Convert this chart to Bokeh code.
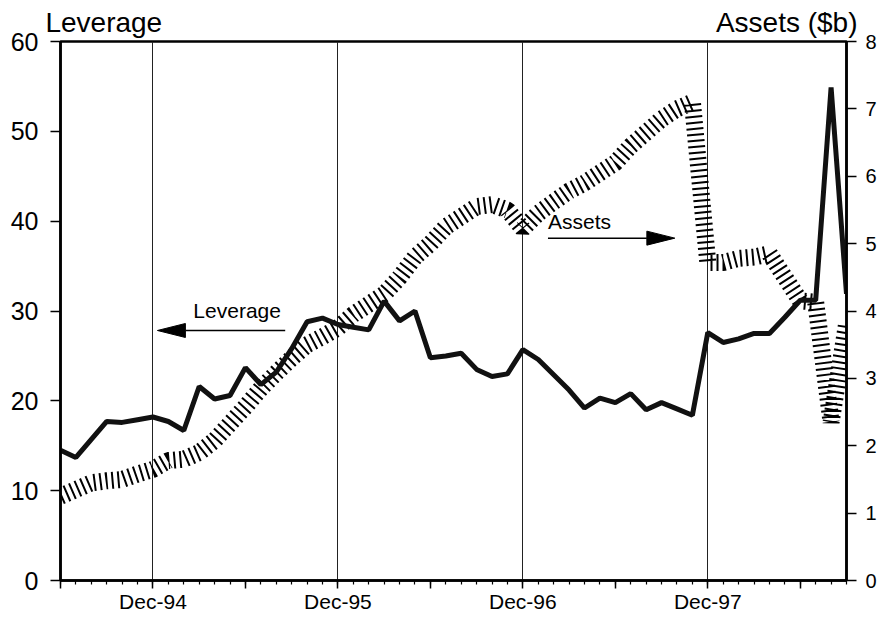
from bokeh.plotting import figure
from bokeh.models import Range1d, LinearAxis, FixedTicker, Label
from bokeh.embed import file_html
from bokeh.resources import INLINE

# ---------------- data ----------------
months = ["Jun-94", "Jul-94", "Aug-94", "Sep-94", "Oct-94", "Nov-94", "Dec-94",
          "Jan-95", "Feb-95", "Mar-95", "Apr-95", "May-95", "Jun-95", "Jul-95",
          "Aug-95", "Sep-95", "Oct-95", "Nov-95", "Dec-95",
          "Jan-96", "Feb-96", "Mar-96", "Apr-96", "May-96", "Jun-96", "Jul-96",
          "Aug-96", "Sep-96", "Oct-96", "Nov-96", "Dec-96",
          "Jan-97", "Feb-97", "Mar-97", "Apr-97", "May-97", "Jun-97", "Jul-97",
          "Aug-97", "Sep-97", "Oct-97", "Nov-97", "Dec-97",
          "Jan-98", "Feb-98", "Mar-98", "Apr-98", "May-98", "Jun-98", "Jul-98",
          "Aug-98", "Sep-98"]

leverage = [14.5, 13.7, 15.7, 17.7, 17.6, 17.9, 18.2,
            17.7, 16.7, 21.6, 20.2, 20.6, 23.7, 21.8, 23.2, 25.8, 28.8, 29.2, 28.5,
            28.2, 27.9, 31.1, 28.9, 30.0, 24.8, 25.0, 25.3, 23.5, 22.7, 23.0, 25.7,
            24.6, 22.9, 21.2, 19.2, 20.3, 19.8, 20.8, 19.0, 19.8, 19.1, 18.4, 27.6,
            26.5, 26.9, 27.5, 27.5, 29.3, 31.2, 31.2, 54.9, 31.9]

assets = [1.25, 1.35, 1.45, 1.48, 1.50, 1.58, 1.65,
          1.78, 1.80, 1.90, 2.08, 2.33, 2.58, 2.85, 3.08, 3.30, 3.50, 3.62, 3.75,
          3.95, 4.10, 4.25, 4.50, 4.80, 5.00, 5.25, 5.40, 5.55, 5.58, 5.50, 5.22,
          5.45, 5.62, 5.78, 5.90, 6.05, 6.20, 6.45, 6.65, 6.85, 7.00, 7.10, 4.72,
          4.72, 4.78, 4.80, 4.85, 4.50, 4.15, 4.13, 2.35, 3.80]

left_ticks = [0, 10, 20, 30, 40, 50, 60]
right_ticks = [0, 1, 2, 3, 4, 5, 6, 7, 8]
x_major = [0, 6, 12, 18, 24, 30, 36, 42, 48]
dec_ticks = [6, 18, 30, 42]
dec_labels = ["Dec-94", "Dec-95", "Dec-96", "Dec-97"]
titles = ["Leverage", "Assets ($b)"]

# ---------------- figure ----------------
FONT = "Liberation Sans"
W, H = 879, 617
ML, MR, MT, MB = 60, 32, 41, 37

x = list(range(len(months)))

p = figure(width=W, height=H, x_range=Range1d(0, len(months) - 1), y_range=Range1d(0, 60),
           output_backend="svg", toolbar_location=None,
           min_border_left=ML, min_border_right=MR, min_border_top=MT, min_border_bottom=MB)
p.extra_y_ranges = {"assets": Range1d(0, 8)}
p.background_fill_color = "white"
p.border_fill_color = "white"
p.outline_line_color = "black"
p.outline_line_width = 2.5

fw = W - ML - MR
fh = H - MT - MB
px_x = fw / (len(months) - 1)   # pixels per month
px_y = fh / 60.0                 # pixels per leverage unit

# grid: vertical lines at each December
p.ygrid.grid_line_color = None
p.xgrid.ticker = FixedTicker(ticks=dec_ticks)
p.xgrid.grid_line_color = "#222222"
p.xgrid.grid_line_width = 1
p.xgrid.grid_line_alpha = 1.0

# x axis
xa = p.xaxis[0]
xa.ticker = FixedTicker(ticks=x_major, minor_ticks=x)
overrides = {t: "" for t in x_major}
for t, lab in zip(dec_ticks, dec_labels):
    overrides[t] = lab
xa.major_label_overrides = overrides
xa.axis_line_width = 2.5
xa.major_tick_line_width = 1.5
xa.minor_tick_line_width = 1.2
xa.major_tick_out = 8
xa.major_tick_in = 0
xa.minor_tick_out = 4
xa.minor_tick_in = 0
xa.major_label_text_font = FONT
xa.major_label_text_font_size = "21px"
xa.major_label_text_color = "black"
xa.major_label_standoff = 1

# left axis
ya = p.yaxis[0]
ya.ticker = FixedTicker(ticks=left_ticks)
ya.axis_line_width = 2.5
ya.major_tick_line_width = 1.5
ya.major_tick_out = 10
ya.major_tick_in = 0
ya.minor_tick_line_color = None
ya.major_label_text_font = FONT
ya.major_label_text_font_size = "25px"
ya.major_label_text_color = "black"
ya.major_label_standoff = 12

# right axis
ra = LinearAxis(y_range_name="assets", ticker=FixedTicker(ticks=right_ticks))
ra.axis_line_width = 2.5
ra.major_tick_line_width = 1.5
ra.major_tick_out = 10
ra.major_tick_in = 0
ra.minor_tick_line_color = None
ra.major_label_text_font = FONT
ra.major_label_text_font_size = "20px"
ra.major_label_text_color = "black"
ra.major_label_standoff = 9
p.add_layout(ra, "right")

# axis titles: an unmarked axis above the frame carrying the two titles
t_left = round(-15 / px_x + 116.7 / 2 / px_x, 2)
t_right = round(len(months) - 1 + 11 / px_x - 141.6 / 2 / px_x, 2)
ta = LinearAxis(ticker=FixedTicker(ticks=[t_left, t_right]))
ta.major_label_overrides = {t_left: titles[0], t_right: titles[1]}
ta.axis_line_color = None
ta.major_tick_line_color = None
ta.minor_tick_line_color = None
ta.major_tick_out = 0
ta.major_tick_in = 0
ta.major_label_text_font = FONT
ta.major_label_text_font_size = "28px"
ta.major_label_text_color = "black"
ta.major_label_standoff = 4
p.add_layout(ta, "above")

# ---------------- series ----------------
p.line(x, assets, y_range_name="assets", line_width=17, line_dash="2 4",
       line_cap="butt", line_color="black")
p.line(x, leverage, line_width=5, line_color="#111111", line_join="bevel")

# ---------------- annotations ----------------


def arrow(x_from, x_tip, yv, head_len=28, head_half=7):
    direction = 1 if x_tip > x_from else -1
    base = x_tip - direction * head_len / px_x
    p.segment(x0=[x_from], y0=[yv], x1=[base], y1=[yv], line_color="black", line_width=1.5)
    p.patch([x_tip, base, base], [yv, yv + head_half / px_y, yv - head_half / px_y],
            fill_color="black", line_color="black", line_width=1)


arrow(14.58, 6.29, 27.83)
arrow(31.63, 39.86, 38.11)

p.add_layout(Label(x=8.62, y=27.83 + 8 / px_y, text="Leverage", text_font=FONT,
                   text_font_size="21px", text_align="left", text_baseline="bottom",
                   text_color="black"))
p.add_layout(Label(x=31.63, y=38.11 + 5.5 / px_y, text="Assets", text_font=FONT,
                   text_font_size="21px", text_align="left", text_baseline="bottom",
                   text_color="black"))

open("out.html", "w").write(file_html(p, INLINE))
